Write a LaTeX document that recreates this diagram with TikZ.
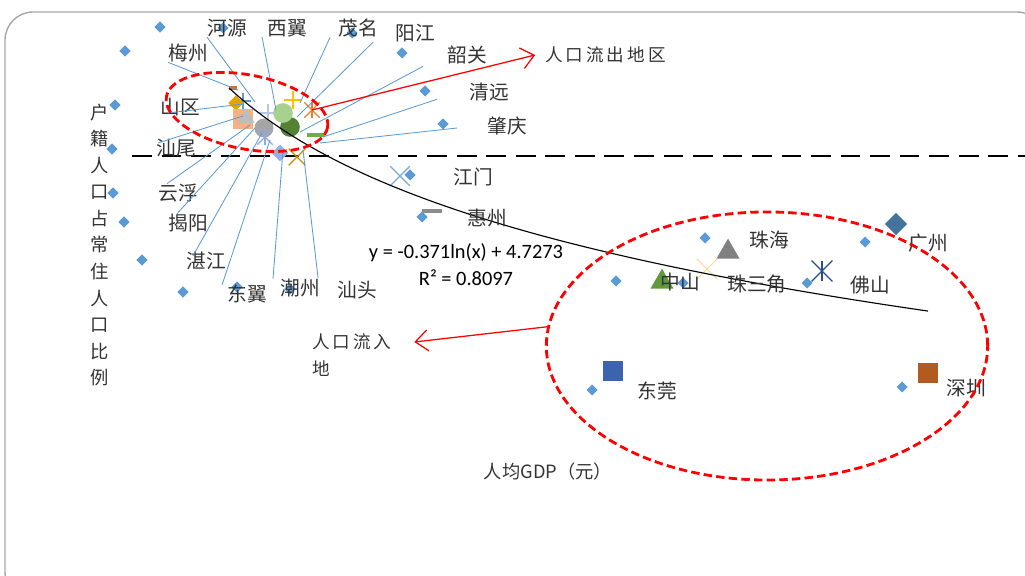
\documentclass[tikz,border=0pt]{standalone}
\usepackage{fontspec}
\setmainfont{Noto Sans CJK SC}
\newfontfamily\eqfont{Carlito}
\newfontfamily\widecjk[LetterSpace=17]{Noto Sans CJK SC}
\usetikzlibrary{shapes.geometric,shapes.misc,arrows.meta,positioning,calc}
\definecolor{ptblue}{HTML}{5B9BD5}
\definecolor{labgray}{HTML}{333333}
\definecolor{framegray}{HTML}{A6A6A6}
\definecolor{cGz}{HTML}{44749D}
\definecolor{cSz}{HTML}{B35A20}
\definecolor{cDg}{HTML}{3C64AE}
\definecolor{cZh}{HTML}{808080}
\definecolor{cZs}{HTML}{5F9B3E}
\definecolor{cFs}{HTML}{2E4B8B}
\definecolor{cSj}{HTML}{FFD591}
\definecolor{cJm}{HTML}{7AA7DB}
\definecolor{cHz}{HTML}{8C8C8C}
\definecolor{cBrown}{HTML}{D0702A}
\definecolor{cGold}{HTML}{E3A600}
\definecolor{cSalmon}{HTML}{F4B183}
\definecolor{cLtGray}{HTML}{BDBDBD}
\definecolor{cLav}{HTML}{B4C7E7}
\definecolor{cGrayC}{HTML}{A5A5A5}
\definecolor{cPeri}{HTML}{8FAADC}
\definecolor{cDkGreen}{HTML}{548235}
\definecolor{cLtGreen}{HTML}{A9D18E}
\definecolor{cYellow}{HTML}{FFC000}
\definecolor{cOrange}{HTML}{ED7D31}
\definecolor{cGreen}{HTML}{70AD47}
\definecolor{cLtBlue}{HTML}{8FB4E3}
\definecolor{cDkGold}{HTML}{BF9000}
\tikzset{
  city/.style={inner sep=0pt, text=labgray, font=\fontsize{14}{16}\selectfont},
  dpoint/.style={diamond, fill=ptblue, inner sep=0pt, minimum size=8pt},
  leader/.style={ptblue, line width=0.6pt},
  xmark/.style={cross out, draw=#1, line width=0.9pt, inner sep=0pt, minimum size=12pt},
  plusmark/.style={cross out, rotate=45, draw=#1, line width=1pt, inner sep=0pt, minimum size=7.5pt},
  dashmark/.style={rectangle, fill=#1, inner sep=0pt, minimum width=14pt, minimum height=3.5pt},
  sqmark/.style={rectangle, fill=#1, inner sep=0pt, minimum size=14pt},
  trimark/.style={regular polygon, regular polygon sides=3, fill=#1, inner sep=0pt, minimum size=19pt},
  dotmark/.style={circle, fill=#1, inner sep=0pt, minimum size=14pt},
  ringred/.style={ellipse, draw=red, line width=2pt, dash pattern=on 6pt off 3pt, inner sep=0pt},
  redarrow/.style={red, line width=0.9pt, -{Straight Barb[length=9pt,width=15pt]}},
}
\begin{document}
\begin{tikzpicture}[x=0.025cm, y=-0.025cm]
\useasboundingbox (0,0) rectangle (1025,576);
% frame
\begin{scope}
\clip (0,0) rectangle (1025,576);
\draw[framegray, line width=1pt, rounded corners=20pt] (5,12) rectangle (1045,600);
\end{scope}
% small diamonds
\foreach \px/\py [count=\i] in {160/27, 125/51, 223/28, 352/33, 402/53, 425/91, 443/124, 115/105, 112/149, 113/193, 124/222, 142/260, 183/292, 237/287, 290/289, 410/175, 422/217, 705/238, 865/242, 616/281, 683/283, 807/283, 592/390, 902/387}
  \node[dpoint] (d\i) at (\px,\py) {};
% dashed reference line
\draw[black, line width=2pt, dash pattern=on 14pt off 7pt] (132,156) -- (1025,156);
% cluster markers
\node[rectangle, fill=cBrown, inner sep=0pt, minimum width=6pt, minimum height=3.5pt] (cRect) at (233,88) {};
\node[plusmark=ptblue] (cPlusA) at (243,101) {};
\node[diamond, fill=cGold, inner sep=0pt, minimum size=11pt] (cDia) at (236,103) {};
\node[sqmark=cSalmon] (cSq) at (243,119) {};
\node[trimark=cLtGray, minimum size=14pt] (cTri) at (246,118) {};
\node[plusmark=cLav, minimum size=8pt] (cPlusB) at (268,113) {};
\node[dotmark=cGrayC, minimum size=13.5pt] (cCirc) at (264,128) {};
\node[xmark=cPeri, minimum size=10pt] (cAstA) at (265,137) {};
\draw[cPeri, line width=0.9pt] (cAstA.north) -- (cAstA.south);
\node[dotmark=cDkGreen] (cDkG) at (290,127) {};
\node[dotmark=cLtGreen] (cLtG) at (283,113) {};
\node[plusmark=cYellow, minimum size=8pt] (cPlusC) at (293,100) {};
\node[xmark=cOrange, minimum size=10pt] (cAstB) at (312,110) {};
\draw[cOrange, line width=0.9pt] (cAstB.north) -- (cAstB.south);
\node[dashmark=cGreen, minimum width=13pt] (cDash) at (316,135) {};
\node[diamond, fill=cLtBlue, inner sep=0pt, minimum size=12pt] (cDiaB) at (280,153) {};
\node[xmark=cDkGold, minimum size=11pt] (cX) at (297,157) {};
% Pearl River Delta markers
\node[diamond, fill=cGz, inner sep=0pt, minimum size=16pt] (mGz) at (896,224) {};
\node[trimark=cZh] (mZh) at (728,252) {};
\node[trimark=cZs] (mZs) at (662,282) {};
\node[xmark=cSj, minimum size=14pt, line width=0.7pt] (mSj) at (707,269) {};
\node[xmark=cFs, minimum size=14pt] (mFs) at (822,271) {};
\draw[cFs, line width=0.9pt] (mFs.north) -- (mFs.south);
\node[sqmark=cDg] (mDg) at (613,371) {};
\node[sqmark=cSz] (mSz) at (928,373) {};
\node[dashmark=cHz] (mHz) at (432,211) {};
\node[xmark=cJm, minimum size=13pt, line width=0.8pt] (mJm) at (400,176) {};
% trend line
\draw[black, line width=0.8pt] plot[domain=229:928, samples=80] (\x, {88+120*(ln(\x-100)-4.860)});
% city labels
\node[city] (lHeyuan) at (227,28) {河源};
\node[city] (lXiyi) at (287,28) {西翼};
\node[city] (lMaoming) at (358,28) {茂名};
\node[city] (lYangjiang) at (415,33) {阳江};
\node[city] (lMeizhou) at (188,53) {梅州};
\node[city] (lShaoguan) at (467,55) {韶关};
\node[city] (lQingyuan) at (489,92) {清远};
\node[city] (lZhaoqing) at (507,126) {肇庆};
\node[city] (lShanqu) at (180,107) {山区};
\node[city] (lShanwei) at (176,148) {汕尾};
\node[city] (lYunfu) at (178,193) {云浮};
\node[city] (lJieyang) at (188,223) {揭阳};
\node[city] (lZhanjiang) at (206,261) {湛江};
\node[city] (lDongyi) at (247,294) {东翼};
\node[city] (lChaozhou) at (300,288) {潮州};
\node[city] (lShantou) at (357,290) {汕头};
\node[city] (lJiangmen) at (473,177) {江门};
\node[city] (lHuizhou) at (487,218) {惠州};
\node[city] (lZhuhai) at (769,240) {珠海};
\node[city] (lGuangzhou) at (928,243) {广州};
\node[city] (lZhongshan) at (680,282) {中山};
\node[city] (lPrd) at (757,284) {珠三角};
\node[city] (lFoshan) at (870,285) {佛山};
\node[city] (lDongguan) at (657,391) {东莞};
\node[city] (lShenzhen) at (966,388) {深圳};
% leader ends in the cluster
\coordinate (eMeizhou) at (238,90);
\coordinate (eHeyuan) at (255,102);
\coordinate (eXiyi) at (276,110);
\coordinate (eMaoming) at (300,103);
\coordinate (eYangjiang) at (297,117);
\coordinate (eShaoguan) at (300,132);
\coordinate (eQingyuan) at (323,137);
\coordinate (eZhaoqing) at (320,143);
\coordinate (eShanqu) at (243,104);
\coordinate (eShanwei) at (243,116);
\coordinate (eYunfu) at (250,125);
\coordinate (eJieyang) at (255,128);
\coordinate (eZhanjiang) at (262,133);
\coordinate (eDongyi) at (270,140);
\coordinate (eChaozhou) at (283,150);
\coordinate (eShantou) at (303,150);
% leader lines
\draw[leader] (lMeizhou.south west) -- (eMeizhou);
\draw[leader] (lHeyuan.south west) -- (eHeyuan);
\draw[leader] ($(lXiyi.south west)+(-5,0)$) -- (eXiyi);
\draw[leader] ($(lMaoming.south west)+(-8,0)$) -- (eMaoming);
\draw[leader] ($(lYangjiang.south west)+(-22,0)$) -- (eYangjiang);
\draw[leader] ($(lShaoguan.south west)+(-24,2)$) -- (eShaoguan);
\draw[leader] ($(lQingyuan.south west)+(-32,-2)$) -- (eQingyuan);
\draw[leader] ($(lZhaoqing.west)+(-30,2)$) -- (eZhaoqing);
\draw[leader] ($(lShanqu)+(-12,6)$) -- (eShanqu);
\draw[leader] ($(lShanwei.west)+(2,-5)$) -- (eShanwei);
\draw[leader] ($(lYunfu.north west)+(9,0)$) -- (eYunfu);
\draw[leader] ($(lJieyang.north west)+(9,0)$) -- (eJieyang);
\draw[leader] ($(lZhanjiang.north west)+(7,4)$) -- (eZhanjiang);
\draw[leader] ($(lDongyi.west)+(-5,-9)$) -- (eDongyi);
\draw[leader] ($(lChaozhou.north west)+(-7,0)$) -- (eChaozhou);
\draw[leader] ($(lShantou.north west)+(-19,-3)$) -- (eShantou);
% regression equation
\node[font=\eqfont\fontsize{14.5}{17}\selectfont, inner sep=0pt] (eqn) at (466,253) {y = -0.371ln(x) + 4.7273};
\node[font=\eqfont\fontsize{14.5}{17}\selectfont, inner sep=0pt] (rsq) at (466,278) {R² = 0.8097};
% red rings and arrows
\node[ringred, rotate=-11, minimum width=4.1cm, minimum height=1.85cm] (ringOut) at (247,112) {};
\node[ringred, minimum width=11.03cm, minimum height=6.7cm] (ringIn) at (767,346) {};
\node[inner sep=0pt, text=labgray, font=\widecjk\fontsize{12.5}{15}\selectfont, anchor=west] (lOut) at (545,55) {人口流出地区};
\node[inner sep=0pt, text=labgray, font=\widecjk\fontsize{12.5}{15}\selectfont, anchor=west] (lInA) at (312,342) {人口流入};
\node[inner sep=0pt, text=labgray, font=\widecjk\fontsize{12.5}{15}\selectfont, below=13pt of lInA.south west, anchor=west] (lInB) {地};
\draw[redarrow] (cAstB.center) -- ([xshift=-7pt]lOut.west);
\draw[redarrow] (ringIn.175) -- ([xshift=16pt]lInA.east);
% axis titles
\node[text=labgray, inner sep=0pt, align=center, font=\fontsize{13}{18.9}\selectfont] (yTitle) at (100,245) {户\\籍\\人\\口\\占\\常\\住\\人\\口\\比\\例};
\node[text=labgray, inner sep=0pt, font=\fontsize{13}{15}\selectfont] (xTitle) at (548,472) {人均GDP（元）};
\end{tikzpicture}
\end{document}
